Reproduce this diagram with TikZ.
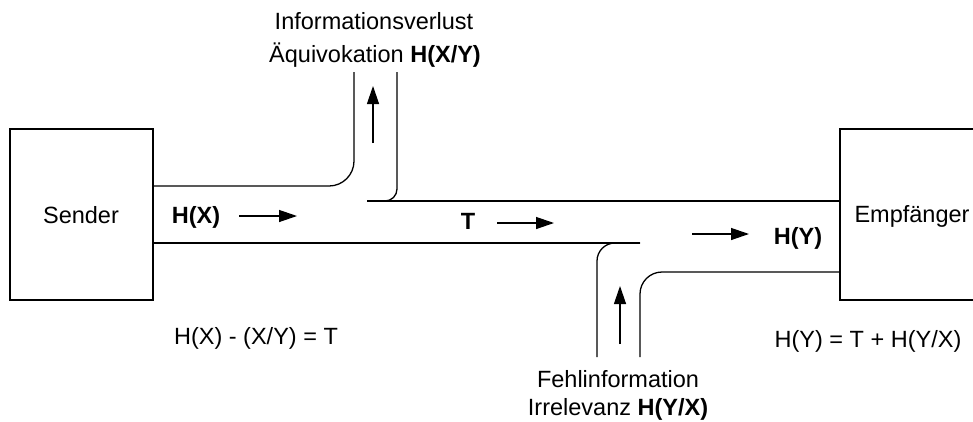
\documentclass[tikz,border=0pt]{standalone}
\usepackage{fontspec}
\setmainfont{Liberation Sans}
\usetikzlibrary{arrows.meta}
\begin{document}
\begin{tikzpicture}[x=1pt,y=-1pt,
  every node/.style={font=\fontsize{23.5}{28}\selectfont, inner sep=0pt},
  box/.style={draw, line width=1.6pt, minimum width=143pt, minimum height=171pt},
  chan/.style={line width=1.3pt},
  flow/.style={line width=1.3pt, -{Triangle[length=18pt,width=12pt]}},
  lbl/.style={anchor=base},
  blbl/.style={anchor=base, font=\fontsize{23.5}{28}\selectfont\bfseries}]
\clip (0,0) rectangle (973,421);
\useasboundingbox (0,0) rectangle (973,421);
\fill[white] (0,0) rectangle (973,421);
% boxes
\node[box] (S) at (81.5,214.5) {};
\node[box, minimum width=145pt] (E) at (912.5,214.5) {};
\node[lbl] (Stxt) at (81,223) {Sender};
\node[lbl] (Etxt) at (912,222) {Empfänger};
% channel coordinates
\coordinate (ul1) at (S.east |- 0,186);
\coordinate (ul2) at (354,72);
\coordinate (ur1) at (397,72);
\coordinate (ur2) at (367,201);
\coordinate (ur3) at (E.west |- 0,201);
\coordinate (ll1) at (S.east |- 0,243);
\coordinate (ll2) at (640,243);
\coordinate (ll3) at (597,357);
\coordinate (lr1) at (640,357);
\coordinate (lr2) at (E.west |- 0,272);
% channel lines
\draw[chan, rounded corners=25pt] (ul1) -| (ul2);
\draw[chan, rounded corners=12pt] (ur1) |- (ur2);
\draw[chan] (ur2) -- (ur3);
\draw[chan] (ll1) -- (ll2);
\draw[chan, rounded corners=18pt] (ll3) |- (ll2);
\draw[chan, rounded corners=22pt] (lr1) |- (lr2);
% arrows
\coordinate (a1s) at (239,216); \coordinate (a1e) at (297,216);
\coordinate (a2s) at (497,223); \coordinate (a2e) at (554,223);
\coordinate (a3s) at (692,234); \coordinate (a3e) at (749,234);
\coordinate (u1s) at (373,143); \coordinate (u1e) at (373,86);
\coordinate (u2s) at (620,344); \coordinate (u2e) at (620,286);
\draw[flow] (a1s) -- (a1e);
\draw[flow] (a2s) -- (a2e);
\draw[flow] (a3s) -- (a3e);
\draw[flow] (u1s) -- (u1e);
\draw[flow] (u2s) -- (u2e);
% labels
\node[blbl] (HX) at (196,223) {H(X)};
\node[blbl] (T) at (468,229) {T};
\node[blbl] (HY) at (798,244) {H(Y)};
\node[lbl] (top1) at (374,29) {Informationsverlust};
\node[lbl] (top2) at (375,62) {Äquivokation \textbf{H(X/Y)}};
\node[lbl] (bot1) at (618,387) {Fehlinformation};
\node[lbl] (bot2) at (618,415) {Irrelevanz \textbf{H(Y/X)}};
\node[lbl] (f1) at (256,344) {H(X) - (X/Y) = T};
\node[lbl] (f2) at (868,347) {H(Y) = T + H(Y/X)};
\end{tikzpicture}
\end{document}
